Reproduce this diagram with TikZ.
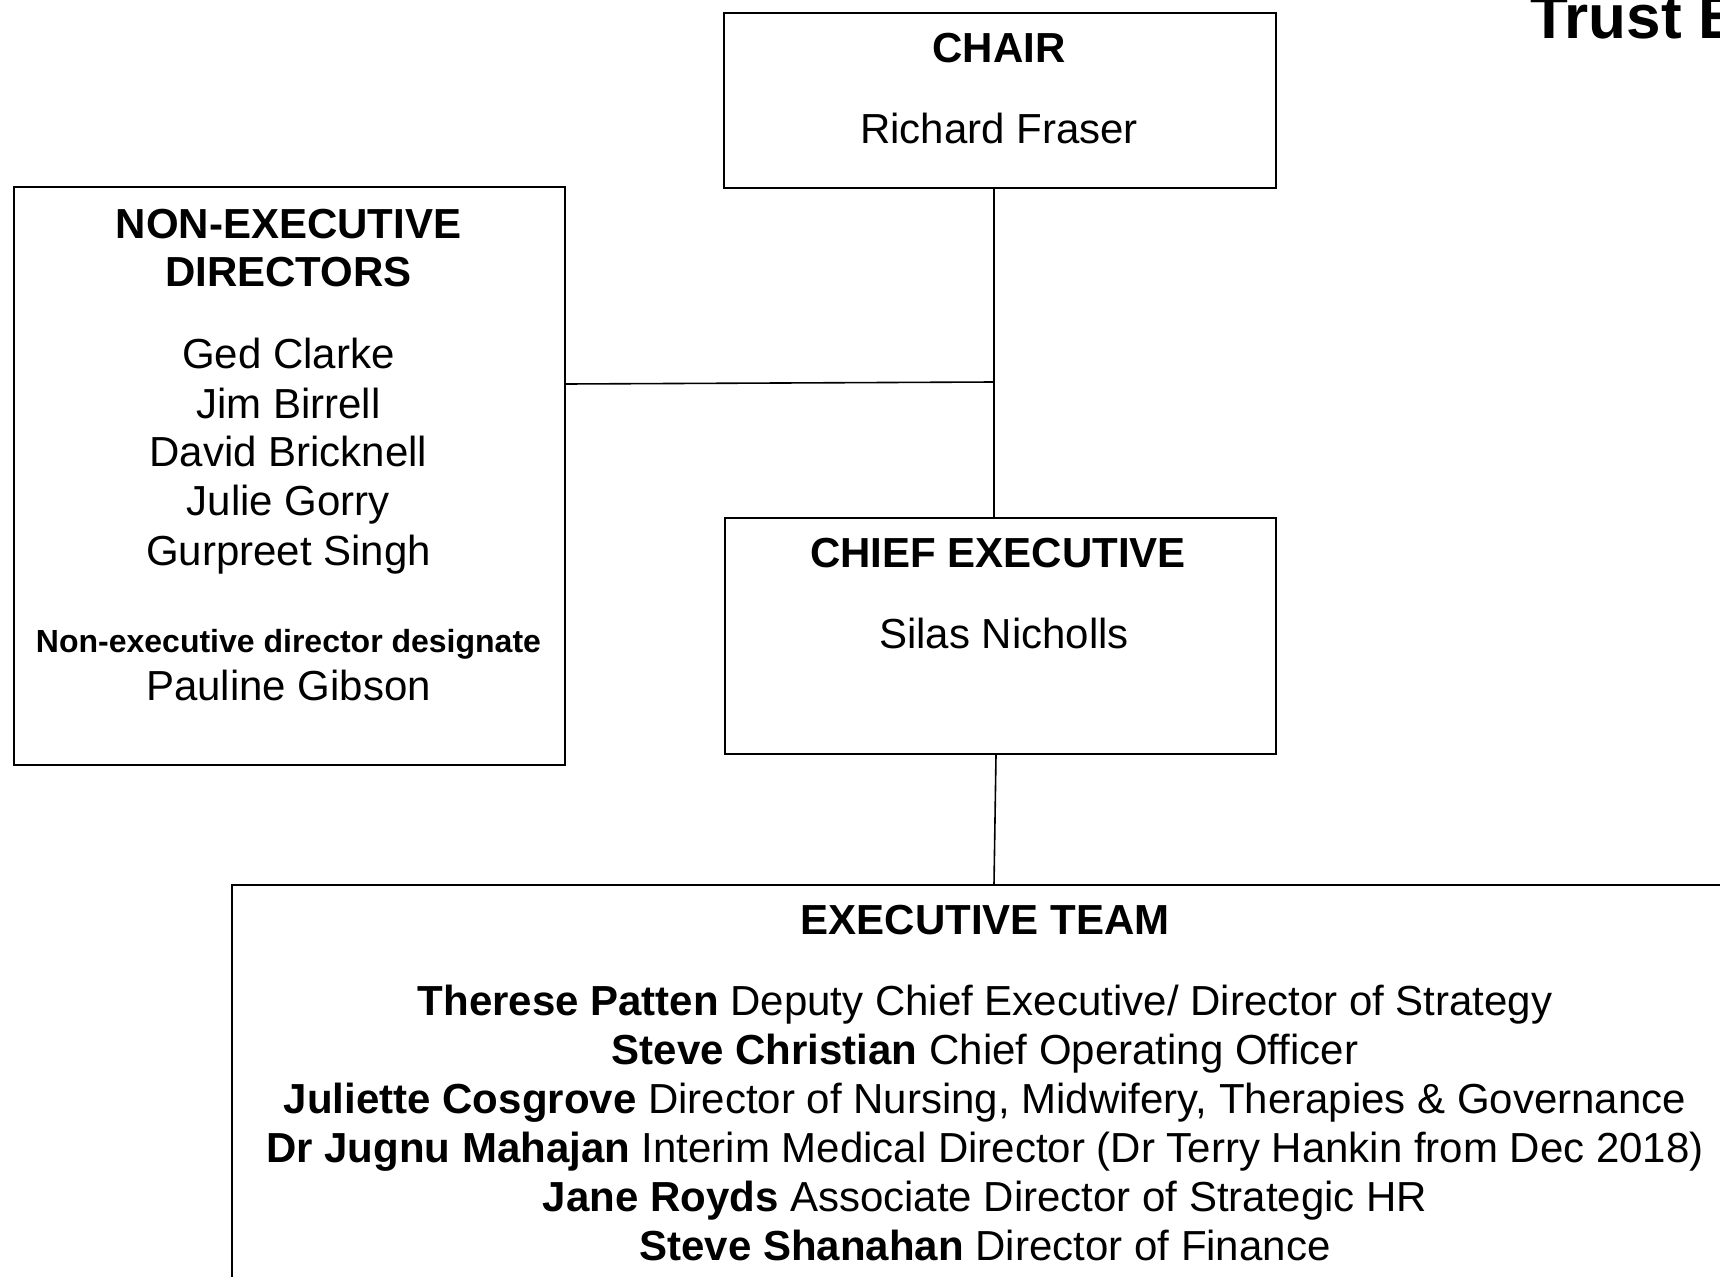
\documentclass[tikz,border=0pt]{standalone}
\usepackage{fontspec}
\setmainfont{Liberation Sans}
\begin{document}
\begin{tikzpicture}[x=1pt,y=-1pt,
  box/.style={draw=black,line width=2pt,rectangle,inner sep=0pt,anchor=north west},
  conn/.style={draw=black,line width=1.6pt},
  lbl/.style={anchor=base,inner sep=0pt,text=black,font=\fontsize{42}{49}\selectfont},
  hd/.style={anchor=base,inner sep=0pt,text=black,font=\fontsize{42}{49}\selectfont\bfseries},
  smallhd/.style={anchor=base,inner sep=0pt,text=black,font=\fontsize{32}{38}\selectfont\bfseries}]
\useasboundingbox (0,0) rectangle (1720,1276);
\clip (0,0) rectangle (1720,1276);
\fill[white] (0,0) rectangle (1720,1276);

% title
\node[anchor=base west,inner sep=0pt,font=\fontsize{62}{74}\selectfont\bfseries] (title) at (1530,39) {Trust Board};

% boxes
\node[box,minimum width=552pt,minimum height=175pt] (chair) at (723,12) {};
\node[box,minimum width=551pt,minimum height=578pt] (ned) at (13,186) {};
\node[box,minimum width=551pt,minimum height=236pt] (ce) at (724,517) {};
\node[box,minimum width=1530pt,minimum height=430pt] (exec) at (231,884) {};

% connectors
\coordinate (j) at (994,382);
\draw[conn] (chair.south -| j) -- (ce.north -| j);
\draw[conn] (ned.east |- 0,384) -- (j);
\draw[conn] (ce.south -| 996,0) -- (exec.north -| j);

% chair text
\node[hd] (chairT) at (999,63) {CHAIR};
\node[lbl] (chairN) at (999,144) {Richard Fraser};

% non-executive directors
\node[hd] (nedT1) at (288.5,238) {NON-EXECUTIVE};
\node[hd] (nedT2) at (288.5,286) {DIRECTORS};
\node[lbl] (ned1) at (288.5,368) {Ged Clarke};
\node[lbl] (ned2) at (288.5,418) {Jim Birrell};
\node[lbl] (ned3) at (288.5,466) {David Bricknell};
\node[lbl] (ned4) at (288.5,515) {Julie Gorry};
\node[lbl] (ned5) at (288.5,565) {Gurpreet Singh};
\node[smallhd] (nedD) at (288.5,652) {Non-executive director designate};
\node[lbl] (ned6) at (288.5,700) {Pauline Gibson};

% chief executive
\node[hd] (ceT) at (998,567) {CHIEF EXECUTIVE};
\node[lbl] (ceN) at (1004,648) {Silas Nicholls};

% executive team
\node[hd] (exT) at (985,934) {EXECUTIVE TEAM};
\node[lbl] (ex1) at (985,1015) {\textbf{Therese Patten} Deputy Chief Executive/ Director of Strategy};
\node[lbl] (ex2) at (985,1064) {\textbf{Steve Christian} Chief Operating Officer};
\node[lbl] (ex3) at (985,1113) {\textbf{Juliette Cosgrove} Director of Nursing, Midwifery, Therapies \& Governance};
\node[lbl] (ex4) at (985,1162) {\textbf{Dr Jugnu Mahajan} Interim Medical Director (Dr Terry Hankin from Dec 2018)};
\node[lbl] (ex5) at (985,1211) {\textbf{Jane Royds} Associate Director of Strategic HR};
\node[lbl] (ex6) at (985,1260) {\textbf{Steve Shanahan} Director of Finance};
\end{tikzpicture}
\end{document}
